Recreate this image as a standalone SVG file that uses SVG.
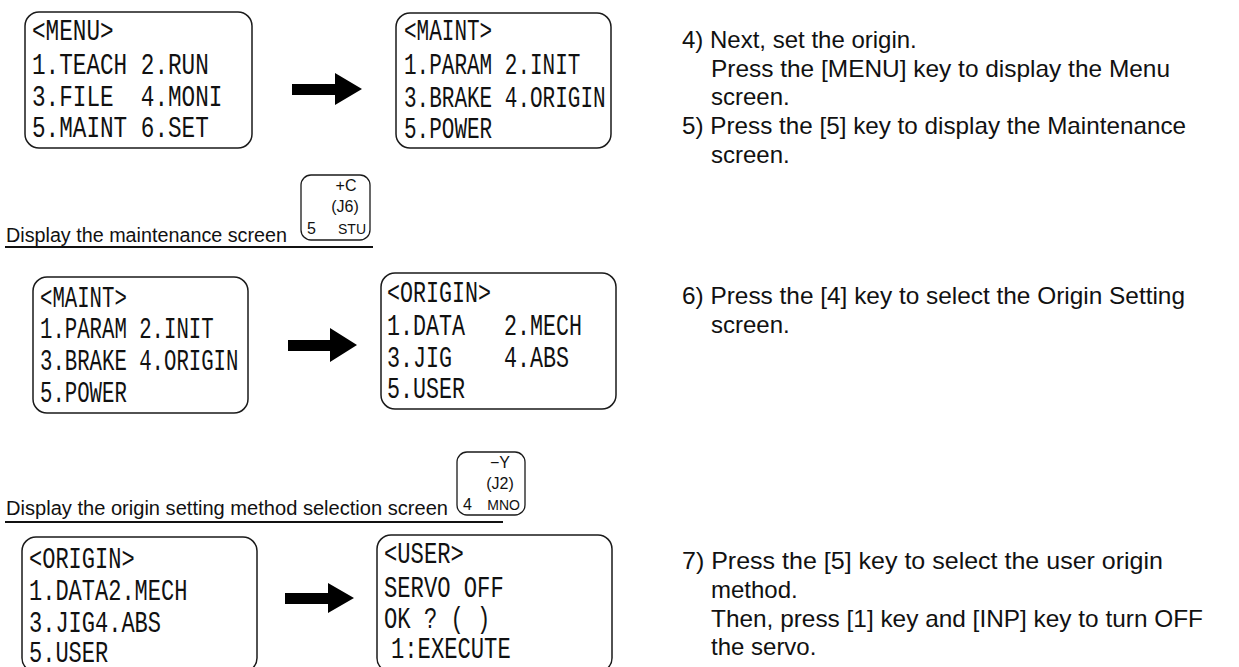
<svg xmlns="http://www.w3.org/2000/svg" width="1239" height="667" viewBox="0 0 1239 667">
<style>
.scr{fill:#fff;stroke:#1a1a1a;stroke-width:1.5}
.key{fill:#fff;stroke:#1a1a1a;stroke-width:1.3}
.lcd{font-family:"Liberation Mono","DejaVu Sans Mono",monospace;font-size:29px;fill:#111}
.kt{font-family:"Liberation Sans",Arial,sans-serif;font-size:16px;fill:#111}
.ks{font-family:"Liberation Sans",Arial,sans-serif;font-size:14px;fill:#111}
.lbl{font-family:"Liberation Sans",Arial,sans-serif;font-size:20px;fill:#111}
.txt{font-family:"Liberation Sans",Arial,sans-serif;font-size:24px;fill:#111}
.ul{stroke:#111;stroke-width:2}
.arr{fill:#000}
</style>
<rect width="1239" height="667" fill="#fff"/>

<g id="connectors">
<path class="arr" d="M292,84 H335 V73 L362,89 L335,105 V95 H292 Z"/>
<path class="arr" d="M288,340 H330 V328 L357,345 L330,362 V351 H288 Z"/>
<path class="arr" d="M285,593 H328 V583 L354,598 L328,613 V604 H285 Z"/>
</g>

<g id="screen-menu">
<rect class="scr" x="25" y="12" width="227" height="136" rx="14"/>
<text class="lcd" x="32" y="40" textLength="81.6" lengthAdjust="spacingAndGlyphs">&lt;MENU&gt;</text>
<text class="lcd" x="32" y="74" textLength="176.8" lengthAdjust="spacingAndGlyphs">1.TEACH 2.RUN</text>
<text class="lcd" x="32" y="106" textLength="190.4" lengthAdjust="spacingAndGlyphs" xml:space="preserve">3.FILE  4.MONI</text>
<text class="lcd" x="32" y="137" textLength="176.8" lengthAdjust="spacingAndGlyphs">5.MAINT 6.SET</text>
</g>

<g id="screen-maint-1">
<rect class="scr" x="396" y="13" width="215" height="135" rx="14"/>
<text class="lcd" x="404" y="40" textLength="88.2" lengthAdjust="spacingAndGlyphs">&lt;MAINT&gt;</text>
<text class="lcd" x="404" y="74" textLength="176.4" lengthAdjust="spacingAndGlyphs">1.PARAM 2.INIT</text>
<text class="lcd" x="404" y="107" textLength="201.6" lengthAdjust="spacingAndGlyphs">3.BRAKE 4.ORIGIN</text>
<text class="lcd" x="404" y="138" textLength="88.2" lengthAdjust="spacingAndGlyphs">5.POWER</text>
</g>

<g id="label-maint">
<text class="lbl" x="6" y="242" textLength="281" lengthAdjust="spacingAndGlyphs">Display the maintenance screen</text>
<line class="ul" x1="5" y1="247" x2="373" y2="247"/>
</g>

<g id="key-5">
<rect class="key" x="301" y="175" width="69" height="65" rx="10"/>
<text class="kt" x="346" y="191" text-anchor="middle">+C</text>
<text class="kt" x="345" y="212" text-anchor="middle">(J6)</text>
<text class="kt" x="307" y="234">5</text>
<text class="ks" x="366" y="234" text-anchor="end">STU</text>
</g>

<g id="screen-maint-2">
<rect class="scr" x="33" y="277" width="215" height="136" rx="14"/>
<text class="lcd" x="40" y="307" textLength="86.8" lengthAdjust="spacingAndGlyphs">&lt;MAINT&gt;</text>
<text class="lcd" x="40" y="338" textLength="173.6" lengthAdjust="spacingAndGlyphs">1.PARAM 2.INIT</text>
<text class="lcd" x="40" y="370" textLength="198.4" lengthAdjust="spacingAndGlyphs">3.BRAKE 4.ORIGIN</text>
<text class="lcd" x="40" y="402" textLength="86.8" lengthAdjust="spacingAndGlyphs">5.POWER</text>
</g>

<g id="screen-origin-1">
<rect class="scr" x="381" y="273" width="235" height="136" rx="14"/>
<text class="lcd" x="387" y="302" textLength="104" lengthAdjust="spacingAndGlyphs">&lt;ORIGIN&gt;</text>
<text class="lcd" x="387" y="335" textLength="195" lengthAdjust="spacingAndGlyphs" xml:space="preserve">1.DATA   2.MECH</text>
<text class="lcd" x="387" y="367" textLength="182" lengthAdjust="spacingAndGlyphs" xml:space="preserve">3.JIG    4.ABS</text>
<text class="lcd" x="387" y="398" textLength="78" lengthAdjust="spacingAndGlyphs">5.USER</text>
</g>

<g id="label-origin">
<text class="lbl" x="6" y="515" textLength="442" lengthAdjust="spacingAndGlyphs">Display the origin setting method selection screen</text>
<line class="ul" x1="5" y1="522" x2="503" y2="522"/>
</g>

<g id="key-4">
<rect class="key" x="457" y="452" width="68" height="63" rx="10"/>
<text class="kt" x="500" y="468" text-anchor="middle">−Y</text>
<text class="kt" x="500" y="489" text-anchor="middle">(J2)</text>
<text class="kt" x="463" y="510">4</text>
<text class="ks" x="520" y="510" text-anchor="end">MNO</text>
</g>

<g id="screen-origin-2">
<rect class="scr" x="22" y="537" width="235" height="135" rx="14"/>
<text class="lcd" x="29" y="568" textLength="105.6" lengthAdjust="spacingAndGlyphs">&lt;ORIGIN&gt;</text>
<text class="lcd" x="29" y="600" textLength="158.4" lengthAdjust="spacingAndGlyphs">1.DATA2.MECH</text>
<text class="lcd" x="29" y="632" textLength="132" lengthAdjust="spacingAndGlyphs">3.JIG4.ABS</text>
<text class="lcd" x="29" y="662" textLength="79.2" lengthAdjust="spacingAndGlyphs">5.USER</text>
</g>

<g id="screen-user">
<rect class="scr" x="377" y="535" width="235" height="137" rx="14"/>
<text class="lcd" x="384" y="563" textLength="79.8" lengthAdjust="spacingAndGlyphs">&lt;USER&gt;</text>
<text class="lcd" x="384" y="597" textLength="119.7" lengthAdjust="spacingAndGlyphs">SERVO OFF</text>
<text class="lcd" x="384" y="628" textLength="106.4" lengthAdjust="spacingAndGlyphs">OK ? ( )</text>
<text class="lcd" x="391" y="658" textLength="119.7" lengthAdjust="spacingAndGlyphs">1:EXECUTE</text>
</g>

<g id="steps">
<text class="txt" x="682" y="48">4) Next, set the origin.</text>
<text class="txt" x="711" y="77" textLength="459" lengthAdjust="spacingAndGlyphs">Press the [MENU] key to display the Menu</text>
<text class="txt" x="711" y="105">screen.</text>
<text class="txt" x="682" y="134" textLength="504" lengthAdjust="spacingAndGlyphs">5) Press the [5] key to display the Maintenance</text>
<text class="txt" x="711" y="163">screen.</text>
<text class="txt" x="682" y="304" textLength="503" lengthAdjust="spacingAndGlyphs">6) Press the [4] key to select the Origin Setting</text>
<text class="txt" x="711" y="333">screen.</text>
<text class="txt" x="682" y="569" textLength="481" lengthAdjust="spacingAndGlyphs">7) Press the [5] key to select the user origin</text>
<text class="txt" x="711" y="598">method.</text>
<text class="txt" x="711" y="627" textLength="492" lengthAdjust="spacingAndGlyphs">Then, press [1] key and [INP] key to turn OFF</text>
<text class="txt" x="711" y="655">the servo.</text>
</g>
</svg>
